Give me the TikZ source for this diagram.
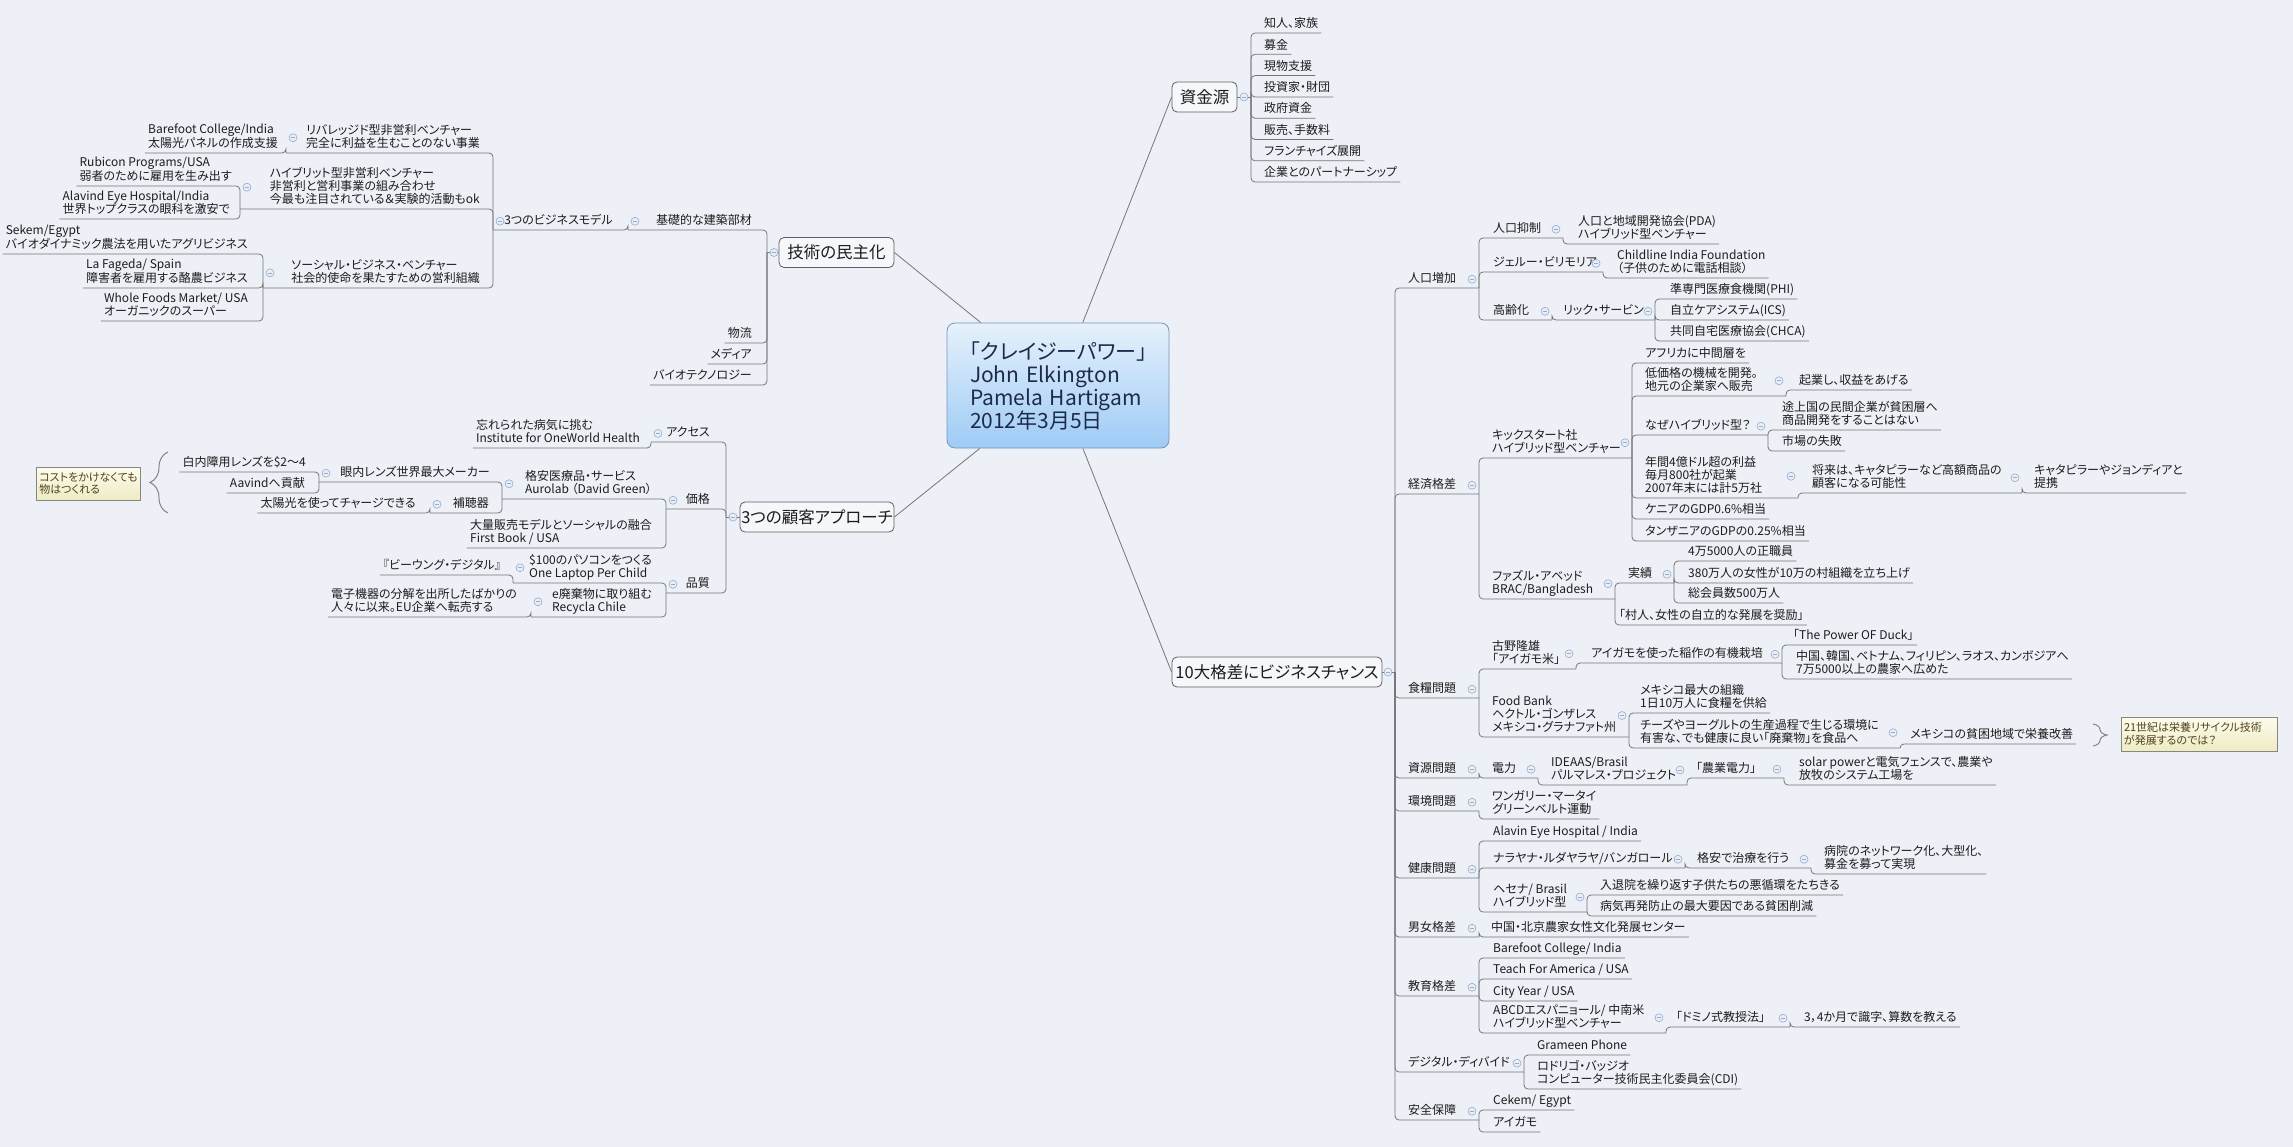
\documentclass[tikz,border=0pt]{standalone}
\usepackage{fontspec}
\setmainfont{Noto Sans CJK JP}[RawFeature=+palt]
\usetikzlibrary{decorations.pathreplacing}
\definecolor{bg}{RGB}{238,240,247}
\definecolor{linec}{RGB}{118,118,118}
\definecolor{txtc}{RGB}{28,28,28}
\definecolor{boxd}{RGB}{95,95,95}
\definecolor{boxf}{RGB}{246,247,251}
\definecolor{circc}{RGB}{150,172,200}
\definecolor{circf}{RGB}{232,238,247}
\definecolor{cntop}{RGB}{230,241,251}
\definecolor{cnbot}{RGB}{158,203,245}
\definecolor{cnd}{RGB}{112,150,192}
\definecolor{cntx}{RGB}{30,42,75}
\definecolor{calf1}{RGB}{253,252,236}
\definecolor{calf2}{RGB}{238,235,196}
\definecolor{cald}{RGB}{135,135,125}
\definecolor{calt}{RGB}{80,66,30}
\newcommand\mmtfont{\fontsize{12}{13}\selectfont}
\newcommand\mmbfont{\fontsize{16.5}{20}\selectfont}
\newcommand\mmcfont{\fontsize{21}{23}\selectfont}
\newcommand\mmkfont{\fontsize{11}{12.5}\selectfont}
\newcommand\mmR[4]{\node[tp,anchor=south west] (#1) at (#2,#3) {#4};}
\newcommand\mmL[4]{\node[tp,anchor=south east] (#1) at (#2,#3) {#4};}
\newcommand\mmS[3]{\coordinate (#1) at (#2,#3);}
\newcommand\mmER[2]{\draw[conn] (#1) |- (#2.south east);}
\newcommand\mmEL[2]{\draw[conn] (#1) |- (#2.south west);}
\newcommand\mmES[2]{\draw[conn] (#1) |- (#2);}
\newcommand\mmCR[2]{\path (#2 |- #1.center) ++(-7,0) node[cir] {};}
\newcommand\mmCL[2]{\path (#2 |- #1.center) ++(7,0) node[cir] {};}
\begin{document}
\begin{tikzpicture}[x=1pt,y=-1pt,
  tp/.style={font=\mmtfont, text=txtc, align=left, inner xsep=3pt, inner ysep=2pt, text depth=3pt},
  conn/.style={draw=linec, line width=0.8pt, rounded corners=4pt},
  mline/.style={draw=linec, line width=0.8pt},
  mbox/.style={draw=boxd, fill=boxf, rounded corners=5pt, font=\mmbfont, text=txtc, inner sep=0pt, minimum height=30pt, line width=0.8pt},
  cir/.style={circle, draw=circc, fill=circf, line width=0.6pt, minimum size=8pt, inner sep=0pt,
     path picture={\draw[circc, line width=0.7pt] ([xshift=-2.3pt]path picture bounding box.center) -- ([xshift=2.3pt]path picture bounding box.center);}},
  notebox/.style={draw=cald, top color=calf1, bottom color=calf2, font=\mmkfont, text=calt, align=left, inner sep=3pt, line width=0.6pt},
  brc/.style={draw=linec!90, line width=1pt, decorate}
]
\useasboundingbox (0,0) rectangle (2293,1147);
\fill[bg] (0,0) rectangle (2293,1147);

% central topic
\node[draw=cnd, line width=0.8pt, rounded corners=8pt, top color=cntop, bottom color=cnbot,
  minimum width=222pt, minimum height=125pt, text width=176pt, align=left, inner sep=0pt,
  font=\mmcfont, text=cntx] (cn) at (1058,385.5)
  {「クレイジーパワー」\\John Elkington\\Pamela Hartigam\\2012年3月5日};

% main topics
\node[mbox, minimum width=65pt] (sk) at (1204.5,97) {資金源};
\node[mbox, minimum width=115pt] (gj) at (836.5,252.5) {技術の民主化};
\node[mbox, minimum width=154pt] (ka) at (817,517) {3つの顧客アプローチ};
\node[mbox, minimum width=210pt] (t10) at (1277,672) {10大格差にビジネスチャンス};

\draw[mline] (cn) -- (sk.west);
\draw[mline] (cn) -- (gj.east);
\draw[mline] (cn) -- (ka.east);
\draw[mline] (cn) -- (t10.west);

% ---------- 資金源 ----------
\mmR{s1}{1261}{33}{知人、家族}
\mmR{s2}{1261}{54.3}{募金}
\mmR{s3}{1261}{75.6}{現物支援}
\mmR{s4}{1261}{97}{投資家・財団}
\mmR{s5}{1261}{118.2}{政府資金}
\mmR{s6}{1261}{139.5}{販売、手数料}
\mmR{s7}{1261}{160.8}{フランチャイズ展開}
\mmR{s8}{1261}{182}{企業とのパートナーシップ}
\mmS{sks}{1251}{97}

% ---------- 技術の民主化 ----------
\mmL{gjb}{755}{230}{基礎的な建築部材}
\mmL{gj2}{755}{343}{物流}
\mmL{gj3}{755}{364}{メディア}
\mmL{gj4}{755}{385}{バイオテクノロジー}
\mmL{bm}{616}{230}{3つのビジネスモデル}
\mmL{b1}{483}{153}{リバレッジド型非営利ベンチャー\\完全に利益を生むことのない事業}
\mmL{b1a}{281}{153}{Barefoot College/India\\太陽光パネルの作成支援}
\mmL{b2}{483}{209}{ハイブリット型非営利ベンチャー\\非営利と営利事業の組み合わせ\\今最も注目されている＆実験的活動もok}
\mmL{b2a}{235}{186}{Rubicon Programs/USA\\弱者のために雇用を生み出す}
\mmL{b2b}{233}{219}{Alavind Eye Hospital/India\\世界トップクラスの眼科を激安で}
\mmL{b3}{483}{288}{ソーシャル・ビジネス・ベンチャー\\社会的使命を果たすための営利組織}
\mmL{b3a}{251}{254}{Sekem/Egypt\\バイオダイナミック農法を用いたアグリビジネス}
\mmL{b3b}{251}{288}{La Fageda/ Spain\\障害者を雇用する酪農ビジネス}
\mmL{b3c}{251}{321}{Whole Foods Market/ USA\\オーガニックのスーパー}
\mmS{gjs}{767}{252.5}
\mmS{gjbs}{628}{230}
\mmS{bms}{493}{230}
\mmS{b1s}{286}{153}
\mmS{b2s}{240}{209}
\mmS{b3s}{263}{288}

% ---------- 3つの顧客アプローチ ----------
\mmL{k1}{713}{442}{アクセス}
\mmL{k1a}{643}{448}{忘れられた病気に挑む\\Institute for OneWorld Health}
\mmL{k2}{713}{509}{価格}
\mmL{k2a}{655}{499}{格安医療品・サービス\\Aurolab （David Green）}
\mmL{k2a1}{493}{482}{眼内レンズ世界最大メーカー}
\mmL{k2a1a}{309}{472}{白内障用レンズを\$2〜4}
\mmL{k2a1b}{308}{493}{Aavindへ貢献}
\mmL{k2a2}{492}{513}{補聴器}
\mmL{k2a2a}{419}{513}{太陽光を使ってチャージできる}
\mmL{k2b}{655}{548}{大量販売モデルとソーシャルの融合\\First Book / USA}
\mmL{k3}{713}{593}{品質}
\mmL{k3a}{655}{583}{\$100のパソコンをつくる\\One Laptop Per Child}
\mmL{k3a1}{504}{575}{『ビーウング・デジタル』}
\mmL{k3b}{655}{617}{e廃棄物に取り組む\\Recycla Chile}
\mmL{k3b1}{520}{617}{電子機器の分解を出所したばかりの\\人々に以来。EU企業へ転売する}
\mmS{kas}{726}{517}
\mmS{k1s}{651}{442}
\mmS{k2s}{666}{509}
\mmS{k2as}{502}{499}
\mmS{k2a1s}{319}{482}
\mmS{k2a2s}{430}{513}
\mmS{k3s}{666}{593}
\mmS{k3as}{513}{583}
\mmS{k3bs}{531}{617}
\node[notebox, minimum width=103pt, minimum height=33pt] (co1) at (88.5,483.5) {コストをかけなくても\\物はつくれる};
\draw[brc, decoration={brace, amplitude=18pt}] (168,513) -- (168,452);

% ---------- 10大格差にビジネスチャンス ----------
\mmR{a1}{1405}{288}{人口増加}
\mmR{a11}{1490}{238}{人口抑制}
\mmR{a111}{1575}{244}{人口と地域開発協会(PDA)\\ハイブリッド型ベンチャー}
\mmR{a12}{1490}{272}{ジェルー・ビリモリア}
\mmR{a121}{1614}{278}{Childline India Foundation\\（子供のために電話相談）}
\mmR{a13}{1490}{320}{高齢化}
\mmR{a131}{1560}{320}{リック・サービン}
\mmR{a1311}{1667}{299}{準専門医療食機関(PHI)}
\mmR{a1312}{1667}{320}{自立ケアシステム(ICS)}
\mmR{a1313}{1667}{341}{共同自宅医療協会(CHCA)}
\mmR{a2}{1405}{494}{経済格差}
\mmR{a21}{1489}{458}{キックスタート社\\ハイブリッド型ベンチャー}
\mmR{a211}{1642}{363}{アフリカに中間層を}
\mmR{a212}{1642}{396}{低価格の機械を開発。\\地元の企業家へ販売}
\mmR{a2121}{1796}{390}{起業し、収益をあげる}
\mmR{a213}{1642}{435}{なぜハイブリッド型？}
\mmR{a2131}{1779}{430}{途上国の民間企業が貧困層へ\\商品開発をすることはない}
\mmR{a2132}{1779}{451}{市場の失敗}
\mmR{a214}{1642}{498}{年間4億ドル超の利益\\毎月800社が起業\\2007年末には計5万社}
\mmR{a2141}{1809}{493}{将来は、キャタピラーなど高額商品の\\顧客になる可能性}
\mmR{a21411}{2031}{493}{キャタピラーやジョンディアと\\提携}
\mmR{a215}{1642}{519}{ケニアのGDP0.6\%相当}
\mmR{a216}{1642}{541}{タンザニアのGDPの0.25\%相当}
\mmR{a22}{1489}{599}{ファズル・アベッド\\BRAC/Bangladesh}
\mmR{a221}{1625}{583}{実績}
\mmR{a2211}{1685}{561}{4万5000人の正職員}
\mmR{a2212}{1685}{583}{380万人の女性が10万の村組織を立ち上げ}
\mmR{a2213}{1685}{603}{総会員数500万人}
\mmR{a222}{1616}{625}{「村人、女性の自立的な発展を奨励」}
\mmR{a3}{1405}{698}{食糧問題}
\mmR{a31}{1489}{669}{古野隆雄\\「アイガモ米」}
\mmR{a311}{1588}{663}{アイガモを使った稲作の有機栽培}
\mmR{a3111}{1790}{645}{「The Power OF Duck」}
\mmR{a3112}{1793}{679}{中国、韓国、ベトナム、フィリピン、ラオス、カンボジアへ\\7万5000以上の農家へ広めた}
\mmR{a32}{1489}{737}{Food Bank\\ヘクトル・ゴンザレス\\メキシコ・グラナファト州}
\mmR{a321}{1637}{713}{メキシコ最大の組織\\1日10万人に食糧を供給}
\mmR{a322}{1637}{748}{チーズやヨーグルトの生産過程で生じる環境に\\有害な、でも健康に良い「廃棄物」を食品へ}
\mmR{a3221}{1907}{744}{メキシコの貧困地域で栄養改善}
\mmR{a4}{1405}{778}{資源問題}
\mmR{a41}{1489}{778}{電力}
\mmR{a411}{1548}{785}{IDEAAS/Brasil\\パルマレス・プロジェクト}
\mmR{a4111}{1693}{778}{「農業電力」}
\mmR{a41111}{1796}{785}{solar powerと電気フェンスで、農業や\\放牧のシステム工場を}
\mmR{a5}{1405}{811}{環境問題}
\mmR{a51}{1489}{819}{ワンガリー・マータイ\\グリーンベルト運動}
\mmR{a6}{1405}{878}{健康問題}
\mmR{a61}{1490}{841}{Alavin Eye Hospital / India}
\mmR{a62}{1490}{868}{ナラヤナ・ルダヤラヤ/バンガロール}
\mmR{a621}{1694}{868}{格安で治療を行う}
\mmR{a6211}{1821}{874}{病院のネットワーク化、大型化、\\募金を募って実現}
\mmR{a63}{1490}{912}{ヘセナ/ Brasil\\ハイブリッド型}
\mmR{a631}{1597}{895}{入退院を繰り返す子供たちの悪循環をたちきる}
\mmR{a632}{1597}{916}{病気再発防止の最大要因である貧困削減}
\mmR{a7}{1405}{937}{男女格差}
\mmR{a71}{1488}{937}{中国・北京農家女性文化発展センター}
\mmR{a8}{1405}{996}{教育格差}
\mmR{a81}{1490}{958}{Barefoot College/ India}
\mmR{a82}{1490}{979}{Teach For America / USA}
\mmR{a83}{1490}{1001}{City Year / USA}
\mmR{a84}{1490}{1033}{ABCDエスパニョール/ 中南米\\ハイブリッド型ベンチャー}
\mmR{a841}{1673}{1027}{「ドミノ式教授法」}
\mmR{a8411}{1801}{1027}{3，4か月で識字、算数を教える}
\mmR{a9}{1405}{1072}{デジタル・ディバイド}
\mmR{a91}{1534}{1055}{Grameen Phone}
\mmR{a92}{1534}{1089}{ロドリゴ・バッジオ\\コンピューター技術民主化委員会(CDI)}
\mmR{a10}{1405}{1120}{安全保障}
\mmR{a101}{1490}{1110}{Cekem/ Egypt}
\mmR{a102}{1490}{1132}{アイガモ}
\node[notebox, minimum width=156pt, minimum height=34pt, text width=150pt] (co2) at (2199,734) {21世紀は栄養リサイクル技術\\が発展するのでは？};
\draw[brc, decoration={brace, amplitude=14pt}] (2093,724) -- (2093,746);

\mmS{t10s}{1395}{672}
\mmS{a1s}{1479}{288}
\mmS{a11s}{1563}{238}
\mmS{a12s}{1603}{272}
\mmS{a13s}{1552}{320}
\mmS{a131s}{1655}{320}
\mmS{a2s}{1479}{494}
\mmS{a21s}{1632}{458}
\mmS{a212s}{1786}{396}
\mmS{a213s}{1768}{435}
\mmS{a214s}{1798}{498}
\mmS{a2141s}{2022}{493}
\mmS{a22s}{1615}{599}
\mmS{a221s}{1674}{583}
\mmS{a3s}{1479}{698}
\mmS{a31s}{1576}{669}
\mmS{a311s}{1782}{663}
\mmS{a32s}{1629}{737}
\mmS{a322s}{1900}{748}
\mmS{a4s}{1479}{778}
\mmS{a41s}{1538}{778}
\mmS{a411s}{1687}{785}
\mmS{a4111s}{1784}{778}
\mmS{a5s}{1479}{811}
\mmS{a6s}{1479}{878}
\mmS{a62s}{1685}{868}
\mmS{a621s}{1811}{868}
\mmS{a63s}{1587}{912}
\mmS{a7s}{1479}{937}
\mmS{a8s}{1479}{996}
\mmS{a84s}{1666}{1033}
\mmS{a841s}{1790}{1027}
\mmS{a9s}{1524}{1072}
\mmS{a10s}{1479}{1120}

% ---------- connectors ----------
\draw[conn] (sk.east) -- (sks);
\mmER{sks}{s1}\mmER{sks}{s2}\mmER{sks}{s3}\mmER{sks}{s4}
\mmER{sks}{s5}\mmER{sks}{s6}\mmER{sks}{s7}\mmER{sks}{s8}

\draw[conn] (gj.west) -- (gjs);
\mmES{gjs}{gjbs}\mmEL{gjs}{gj2}\mmEL{gjs}{gj3}\mmEL{gjs}{gj4}
\mmES{gjbs}{bms}
\mmES{bms}{b1s}\mmES{bms}{b2s}\mmES{bms}{b3s}
\mmEL{b1s}{b1a}
\mmEL{b2s}{b2a}\mmEL{b2s}{b2b}
\mmEL{b3s}{b3a}\mmEL{b3s}{b3b}\mmEL{b3s}{b3c}

\draw[conn] (ka.west) -- (kas);
\mmES{kas}{k1s}\mmES{kas}{k2s}\mmES{kas}{k3s}
\mmEL{k1s}{k1a}
\mmES{k2s}{k2as}\mmEL{k2s}{k2b}
\mmES{k2as}{k2a1s}\mmES{k2as}{k2a2s}
\mmEL{k2a1s}{k2a1a}\mmEL{k2a1s}{k2a1b}
\mmEL{k2a2s}{k2a2a}
\mmES{k3s}{k3as}\mmES{k3s}{k3bs}
\mmEL{k3as}{k3a1}
\mmEL{k3bs}{k3b1}

\draw[conn] (t10.east) -- (t10s);
\mmES{t10s}{a1s}\mmES{t10s}{a2s}\mmES{t10s}{a3s}\mmES{t10s}{a4s}\mmES{t10s}{a5s}
\mmES{t10s}{a6s}\mmES{t10s}{a7s}\mmES{t10s}{a8s}\mmES{t10s}{a9s}\mmES{t10s}{a10s}
\mmES{a1s}{a11s}\mmES{a1s}{a12s}\mmES{a1s}{a13s}
\mmER{a11s}{a111}
\mmER{a12s}{a121}
\mmES{a13s}{a131s}
\mmER{a131s}{a1311}\mmER{a131s}{a1312}\mmER{a131s}{a1313}
\mmES{a2s}{a21s}\mmES{a2s}{a22s}
\mmER{a21s}{a211}\mmES{a21s}{a212s}\mmES{a21s}{a213s}\mmES{a21s}{a214s}
\mmER{a21s}{a215}\mmER{a21s}{a216}
\mmER{a212s}{a2121}
\mmER{a213s}{a2131}\mmER{a213s}{a2132}
\mmES{a214s}{a2141s}
\mmER{a2141s}{a21411}
\mmES{a22s}{a221s}\mmER{a22s}{a222}
\mmER{a221s}{a2211}\mmER{a221s}{a2212}\mmER{a221s}{a2213}
\mmES{a3s}{a31s}\mmES{a3s}{a32s}
\mmES{a31s}{a311s}
\mmER{a311s}{a3111}\mmER{a311s}{a3112}
\mmER{a32s}{a321}\mmES{a32s}{a322s}
\mmER{a322s}{a3221}
\mmES{a4s}{a41s}
\mmES{a41s}{a411s}
\mmES{a411s}{a4111s}
\mmER{a4111s}{a41111}
\mmER{a5s}{a51}
\mmER{a6s}{a61}\mmES{a6s}{a62s}\mmES{a6s}{a63s}
\mmES{a62s}{a621s}
\mmER{a621s}{a6211}
\mmER{a63s}{a631}\mmER{a63s}{a632}
\mmER{a7s}{a71}
\mmER{a8s}{a81}\mmER{a8s}{a82}\mmER{a8s}{a83}\mmES{a8s}{a84s}
\mmES{a84s}{a841s}
\mmER{a841s}{a8411}
\mmER{a9s}{a91}\mmER{a9s}{a92}
\mmER{a10s}{a101}\mmER{a10s}{a102}

% ---------- collapse markers ----------
\mmCR{sk}{sks}
\mmCL{gj}{gjs}\mmCL{gjb}{gjbs}\mmCL{bm}{bms}\mmCL{b1}{b1s}\mmCL{b2}{b2s}\mmCL{b3}{b3s}
\mmCL{ka}{kas}\mmCL{k1}{k1s}\mmCL{k2}{k2s}\mmCL{k2a}{k2as}\mmCL{k2a1}{k2a1s}\mmCL{k2a2}{k2a2s}
\mmCL{k3}{k3s}\mmCL{k3a}{k3as}\mmCL{k3b}{k3bs}
\mmCR{t10}{t10s}
\mmCR{a1}{a1s}\mmCR{a11}{a11s}\mmCR{a12}{a12s}\mmCR{a13}{a13s}\mmCR{a131}{a131s}
\mmCR{a2}{a2s}\mmCR{a21}{a21s}\mmCR{a212}{a212s}\mmCR{a213}{a213s}\mmCR{a214}{a214s}\mmCR{a2141}{a2141s}
\mmCR{a22}{a22s}\mmCR{a221}{a221s}
\mmCR{a3}{a3s}\mmCR{a31}{a31s}\mmCR{a311}{a311s}\mmCR{a32}{a32s}\mmCR{a322}{a322s}
\mmCR{a4}{a4s}\mmCR{a41}{a41s}\mmCR{a411}{a411s}\mmCR{a4111}{a4111s}
\mmCR{a5}{a5s}
\mmCR{a6}{a6s}\mmCR{a62}{a62s}\mmCR{a621}{a621s}\mmCR{a63}{a63s}
\mmCR{a7}{a7s}
\mmCR{a8}{a8s}\mmCR{a84}{a84s}\mmCR{a841}{a841s}
\mmCR{a9}{a9s}
\mmCR{a10}{a10s}
\end{tikzpicture}
\end{document}
